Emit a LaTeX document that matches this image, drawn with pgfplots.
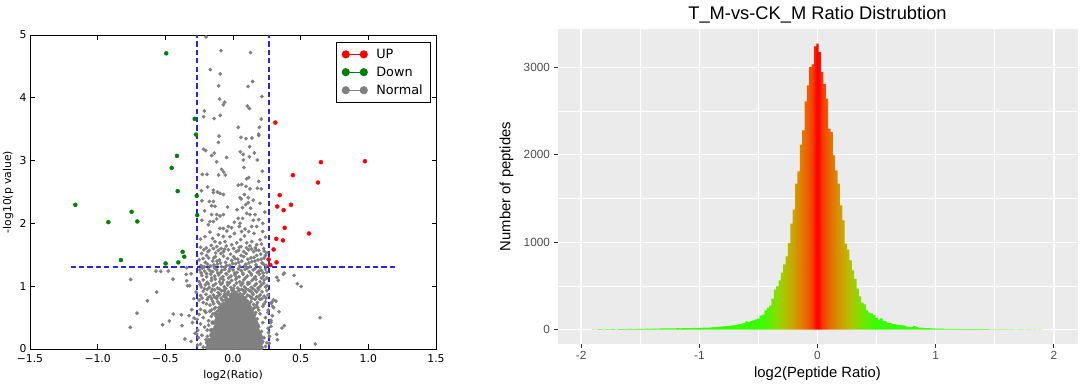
\documentclass[border=0pt]{standalone}
\usepackage{pgfplots}
\pgfplotsset{compat=1.18}
\usepackage{fontspec}
\setmainfont{DejaVu Sans}
\newfontfamily\dejavu{DejaVu Sans}
\newfontfamily\lib{Liberation Sans}
\definecolor{ggbg}{RGB}{235,235,235}
\definecolor{ggtick}{RGB}{51,51,51}
\definecolor{ggtext}{RGB}{77,77,77}
\definecolor{mgrey}{RGB}{128,128,128}
\definecolor{mgreen}{RGB}{0,128,0}
\definecolor{mred}{RGB}{255,0,0}
\definecolor{mblue}{RGB}{40,40,225}
\definecolor{h0}{RGB}{255,0,0}
\definecolor{h1}{RGB}{255,12,0}
\definecolor{h2}{RGB}{246,58,0}
\definecolor{h3}{RGB}{238,90,0}
\definecolor{h4}{RGB}{228,115,0}
\definecolor{h5}{RGB}{216,138,0}
\definecolor{h6}{RGB}{205,160,0}
\definecolor{h7}{RGB}{188,182,0}
\definecolor{h8}{RGB}{165,203,0}
\definecolor{h9}{RGB}{132,222,0}
\definecolor{h10}{RGB}{100,236,0}
\definecolor{h11}{RGB}{72,247,0}
\definecolor{h12}{RGB}{55,255,0}
\pgfdeclarehorizontalshading{histshade}{100bp}{color(0bp)=(h12); color(43.455bp)=(h12); color(44.110bp)=(h11); color(44.764bp)=(h10); color(45.419bp)=(h9); color(46.073bp)=(h8); color(46.728bp)=(h7); color(47.382bp)=(h6); color(47.906bp)=(h5); color(48.429bp)=(h4); color(48.953bp)=(h3); color(49.476bp)=(h2); color(49.804bp)=(h1); color(50bp)=(h0); color(50.196bp)=(h1); color(50.524bp)=(h2); color(51.047bp)=(h3); color(51.571bp)=(h4); color(52.094bp)=(h5); color(52.618bp)=(h6); color(53.272bp)=(h7); color(53.927bp)=(h8); color(54.581bp)=(h9); color(55.236bp)=(h10); color(55.890bp)=(h11); color(56.545bp)=(h12); color(100bp)=(h12)}
\begin{document}
\begin{tikzpicture}
\useasboundingbox (0,0) rectangle (1080pt,388pt);
% ---------------- left: volcano plot ----------------
\begin{axis}[
  at={(30pt,39pt)}, anchor=south west,
  scale only axis, width=406pt, height=314pt,
  xmin=-1.5, xmax=1.5, ymin=0, ymax=5,
  xtick={-1.5,-1,-0.5,0,0.5,1,1.5},
  xticklabels={−1.5,−1.0,−0.5,0.0,0.5,1.0,1.5},
  ytick={0,1,2,3,4,5},
  yticklabels={0,1,2,3,4,5},
  tick align=inside,
  major tick length=4.5pt,
  tick style={black, line width=0.8pt},
  axis line style={black, line width=0.9pt},
  tick label style={font=\dejavu\fontsize{10.8}{12}\selectfont, text=black},
  xticklabel style={anchor=center, yshift=-10pt},
  label style={font=\dejavu\fontsize{10.8}{12}\selectfont},
  xlabel={log2(Ratio)},
  ylabel={-log10(p value)},
  xlabel style={at={(axis description cs:0.5,-0.086)}, anchor=center},
  ylabel style={at={(axis description cs:-0.054,0.5)}, anchor=center},
  legend style={at={(1,1)}, anchor=north east, xshift=-5pt, yshift=-7pt,
    draw=black, line width=0.9pt, fill=white,
    font=\dejavu\fontsize{12.8}{14}\selectfont,
    inner xsep=5.4pt, inner ysep=4pt, row sep=2pt,
    nodes={inner sep=2.5pt}, cells={anchor=west},
    /tikz/every odd column/.append style={column sep=6pt}},
]
% grey (normal), scattered points
\addplot[only marks, mark=*, mark size=1.7pt, color=mgrey, mark options={fill=mgrey, draw=none}, forget plot] coordinates {
(-0.200,4.97) (-0.089,4.75) (0.130,4.72) (-0.168,4.45) (-0.094,4.38) (-0.106,4.19) (0.145,4.26) (0.111,4.18) (0.214,4.02) (-0.099,3.98)
(-0.062,3.93) (-0.071,3.89) (0.106,3.87) (0.121,3.83) (-0.212,3.79) (-0.217,3.70) (-0.140,3.67) (-0.094,3.72) (0.209,3.66) (0.039,3.53)
(0.195,3.53) (0.190,3.42) (-0.104,3.39) (-0.108,3.29) (0.059,3.37) (0.096,3.35) (0.140,3.36) (0.190,3.40) (0.123,3.22) (-0.217,3.18)
(-0.202,3.16) (-0.138,3.12) (-0.158,3.08) (0.054,3.14) (0.076,3.10) (0.158,3.12) (0.121,3.06) (-0.047,3.05) (-0.121,2.98) (0.076,3.01)
(0.180,3.01) (-0.084,2.86) (-0.069,2.82) (0.081,2.89) (0.116,2.73) (0.101,2.71) (-0.227,2.78) (-0.192,2.78) (-0.106,2.77) (-0.057,2.77)
(0.217,2.83) (0.190,2.67) (0.039,2.61) (0.064,2.62) (0.096,2.59) (0.126,2.55) (-0.234,2.52) (-0.145,2.53) (-0.145,2.49) (-0.116,2.50)
(-0.096,2.48) (-0.071,2.46) (-0.187,2.58) (0.180,2.56) (0.209,2.55) (0.052,2.41) (0.113,2.41) (0.084,2.46)
(-0.175,2.35) (-0.145,2.35) (-0.158,2.28) (-0.133,2.27) (0.094,2.30) (0.113,2.33) (0.150,2.37) (0.060,2.39) (-0.230,2.36) (0.200,2.32)
(-0.158,2.14) (-0.121,2.14) (-0.096,2.12) (-0.071,2.14) (0.101,2.16) (0.126,2.14) (0.163,2.14) (0.190,2.06) (0.030,2.22) (-0.210,2.20)
(0.070,2.25) (0.235,2.18) (-0.040,2.26) (0.130,2.24)
(-0.170,2.03) (-0.145,2.03) (-0.182,1.98) (0.039,2.08) (0.071,2.08) (0.052,2.00) (0.175,1.95) (-0.096,1.92) (-0.071,1.92) (-0.034,1.95)
(0.047,1.95) (0.089,1.91) (0.138,1.95) (-0.230,2.05) (0.010,2.02) (0.220,2.00) (-0.120,2.07) (0.150,2.05) (-0.010,1.93)
(-0.207,1.79) (-0.108,1.82) (-0.071,1.79) (-0.022,1.79) (0.064,1.87) (0.116,1.87) (0.155,1.84) (0.219,1.87) (0.200,1.74) (-0.133,1.71)
(-0.096,1.69) (-0.059,1.71) (0.027,1.69) (0.057,1.74) (0.101,1.69) (0.138,1.71) (0.175,1.66) (-0.170,1.86) (-0.240,1.75) (0.010,1.84)
(0.085,1.80) (-0.045,1.88) (0.240,1.78) (-0.150,1.76)
(-0.215,1.58) (-0.185,1.55) (-0.145,1.60) (-0.108,1.57) (-0.071,1.55) (-0.034,1.58) (0.004,1.60) (0.041,1.57) (0.079,1.55) (0.116,1.58)
(0.153,1.55) (0.190,1.57) (0.227,1.60) (-0.160,1.65) (-0.120,1.63) (-0.010,1.66) (0.060,1.63) (0.125,1.64) (0.210,1.67) (-0.240,1.62)
(0.250,1.53) (-0.090,1.52) (-0.050,1.64) (0.100,1.61) (0.165,1.61)
(-0.232,1.52) (-0.176,1.57) (-0.128,1.53) (-0.062,1.59) (-0.018,1.51) (0.024,1.55) (0.098,1.52) (0.137,1.59) (0.205,1.51) (0.231,1.56)
(-0.197,1.61) (0.047,1.62) (-0.088,1.60) (0.172,1.58)
(-0.235,1.33) (-0.205,1.38) (-0.180,1.45) (-0.165,1.32) (-0.150,1.40) (-0.130,1.47) (-0.115,1.35) (-0.100,1.42) (-0.085,1.31) (-0.070,1.48)
(-0.055,1.38) (-0.040,1.44) (-0.025,1.33) (-0.010,1.41) (0.005,1.47) (0.020,1.36) (0.035,1.43) (0.050,1.32) (0.065,1.40) (0.080,1.47)
(0.095,1.35) (0.110,1.43) (0.125,1.31) (0.140,1.39) (0.155,1.46) (0.170,1.34) (0.185,1.42) (0.200,1.30) (0.215,1.37) (0.230,1.45)
(0.245,1.33) (-0.250,1.42) (-0.195,1.49) (-0.140,1.34) (0.060,1.49) (0.175,1.49) (0.240,1.49) (-0.060,1.30) (0.100,1.30)
(-0.221,1.44) (-0.188,1.35) (-0.142,1.45) (-0.092,1.37) (-0.047,1.33) (-0.003,1.36) (0.042,1.38) (0.087,1.33) (0.133,1.45) (0.162,1.40)
(0.208,1.43) (0.226,1.35) (-0.118,1.40) (0.015,1.44) (0.118,1.37) (-0.212,1.31)
(-0.245,1.26) (-0.21,1.24) (-0.18,1.27) (-0.15,1.23) (-0.12,1.26) (-0.09,1.22) (-0.06,1.27) (-0.03,1.24) (0.00,1.26) (0.03,1.22)
(0.06,1.25) (0.09,1.27) (0.12,1.23) (0.15,1.26) (0.18,1.22) (0.21,1.25) (0.24,1.27)
(-0.236,1.21) (-0.224,1.29) (-0.196,1.20) (-0.167,1.24) (-0.138,1.29) (-0.112,1.21) (-0.083,1.25) (-0.052,1.20) (-0.024,1.28) (0.012,1.21)
(0.041,1.28) (0.072,1.21) (0.103,1.28) (0.134,1.20) (0.163,1.28) (0.192,1.24) (0.222,1.21) (0.249,1.22) (-0.157,1.13) (-0.092,1.12)
(-0.032,1.13) (0.027,1.14) (0.091,1.13) (0.152,1.12) (0.209,1.13)
(-0.23,1.17) (-0.195,1.15) (-0.165,1.19) (-0.135,1.16) (-0.105,1.18) (-0.075,1.15) (-0.045,1.19) (-0.015,1.16) (0.015,1.18) (0.045,1.15)
(0.075,1.19) (0.105,1.16) (0.135,1.18) (0.165,1.15) (0.195,1.19) (0.225,1.16) (0.25,1.13)
(-0.25,1.07) (-0.22,1.10) (-0.19,1.06) (-0.16,1.09) (-0.13,1.11) (-0.10,1.07) (-0.07,1.10) (-0.04,1.06) (-0.01,1.09) (0.02,1.11)
(0.05,1.07) (0.08,1.10) (0.11,1.06) (0.14,1.09) (0.17,1.11) (0.20,1.07) (0.23,1.10)
(-0.242,1.03) (-0.211,0.96) (-0.182,1.04) (-0.153,0.95) (-0.128,1.04) (-0.102,0.96) (-0.078,1.05) (-0.053,0.96) (-0.027,1.05) (0.004,0.96)
(0.027,1.05) (0.048,0.94) (0.072,1.05) (0.097,0.96) (0.122,1.05) (0.147,0.96) (0.173,1.04) (0.198,0.99) (0.227,1.05) (0.252,1.01)
(-0.063,0.92) (0.007,0.92) (0.078,0.93) (0.128,0.92) (0.176,0.91)
(-0.235,0.99) (-0.205,1.02) (-0.175,0.98) (-0.145,1.01) (-0.115,0.97) (-0.09,1.03) (-0.065,0.99) (-0.04,1.02) (-0.015,0.98) (0.01,1.01)
(0.035,0.97) (0.06,1.02) (0.085,0.99) (0.11,1.03) (0.135,0.98) (0.16,1.01) (0.185,0.97) (0.21,1.02) (0.24,0.99)
(-0.22,0.92) (-0.19,0.95) (-0.16,0.91) (-0.135,0.94) (-0.11,0.90) (-0.085,0.93) (-0.06,0.95) (-0.035,0.91) (-0.01,0.94) (0.015,0.90)
(0.04,0.93) (0.065,0.95) (0.09,0.91) (0.115,0.94) (0.14,0.90) (0.165,0.93) (0.19,0.95) (0.215,0.91) (0.25,0.93)
(-0.24,0.85) (-0.20,0.87) (-0.17,0.84) (-0.145,0.86) (-0.12,0.83) (-0.095,0.87) (-0.07,0.84) (-0.045,0.86) (0.125,0.84) (0.15,0.87)
(0.175,0.83) (0.20,0.86) (0.23,0.84) (0.26,0.86)
(-0.228,0.81) (-0.183,0.82) (-0.158,0.80) (-0.136,0.83) (-0.108,0.85) (-0.088,0.81) (-0.062,0.88) (-0.052,0.82) (-0.037,0.89) (-0.022,0.85)
(-0.008,0.88) (0.008,0.86) (0.024,0.89) (0.037,0.85) (0.052,0.88) (0.066,0.84) (0.078,0.88) (0.094,0.82) (0.108,0.86) (0.137,0.82)
(0.163,0.79) (0.186,0.83) (0.213,0.80) (0.244,0.81) (-0.058,0.78) (-0.048,0.74) (0.082,0.78) (0.092,0.73) (0.108,0.76) (-0.088,0.71)
(-0.068,0.73) (0.118,0.72) (0.132,0.75) (-0.113,0.75) (-0.143,0.72) (0.152,0.71) (0.175,0.70) (-0.196,0.72) (0.227,0.71)
(-0.25,0.78) (-0.22,0.74) (-0.19,0.79) (-0.17,0.70) (-0.15,0.76) (-0.13,0.66) (-0.12,0.80) (-0.10,0.72) (-0.08,0.78) (-0.07,0.65)
(0.10,0.77) (0.12,0.70) (0.14,0.80) (0.16,0.66) (0.18,0.74) (0.20,0.79) (0.22,0.68) (0.24,0.75) (0.26,0.62) (-0.24,0.63)
(-0.21,0.61) (-0.16,0.62) (0.19,0.62) (0.14,0.62)
(-0.103,0.66) (-0.092,0.63) (-0.117,0.60) (-0.132,0.57) (-0.107,0.55) (-0.126,0.52) (-0.148,0.56) (-0.172,0.60) (-0.138,0.64) (0.112,0.64)
(0.123,0.60) (0.128,0.67) (0.136,0.55) (0.142,0.59) (0.157,0.53) (0.148,0.64) (0.167,0.58) (0.182,0.66) (0.103,0.68) (-0.082,0.68)
(-0.25,0.55) (-0.22,0.50) (-0.20,0.58) (-0.18,0.45) (-0.16,0.52) (-0.24,0.40) (-0.21,0.35) (-0.19,0.30) (-0.23,0.22) (-0.20,0.15)
(-0.24,0.08) (-0.22,0.03) (-0.19,0.20) (-0.18,0.38) (-0.26,0.30) (0.16,0.55) (0.18,0.48) (0.20,0.56) (0.22,0.42) (0.24,0.50)
(0.19,0.35) (0.21,0.28) (0.23,0.18) (0.25,0.10) (0.20,0.05) (0.22,0.12) (0.26,0.33) (0.18,0.22) (0.24,0.04) (0.27,0.20)
(-0.262,0.06) (-0.255,0.18) (0.268,0.09) (0.262,0.26) (-0.266,0.47) (0.258,0.58)
(-0.569,1.240) (-0.534,1.235) (-0.478,1.240) (-0.756,1.107) (-0.443,1.113) (-0.345,1.187) (-0.342,1.086) (-0.335,1.007) (-0.320,1.007) (-0.564,0.906)
(-0.633,0.768) (-0.709,0.572) (-0.441,0.556) (-0.382,0.545) (-0.325,0.530) (-0.759,0.344) (-0.520,0.387) (-0.470,0.445) (-0.377,0.371) (-0.355,0.159)
(-0.342,1.294) (-0.310,1.198) (-0.273,0.907) (-0.305,0.626) (-0.290,0.80) (-0.300,0.42) (-0.280,0.25) (-0.310,0.12) (-0.288,0.493) (-0.268,0.239)
(0.379,1.208) (0.372,1.192) (0.451,1.171) (0.323,1.140) (0.335,1.092) (0.475,1.039) (0.503,0.996) (0.318,0.763) (0.286,0.742) (0.293,0.678)
(0.301,0.657) (0.340,0.593) (0.291,0.530) (0.281,0.456) (0.281,0.424) (0.643,0.498) (0.281,0.360) (0.379,0.371) (0.362,0.334) (0.323,0.233)
(0.328,0.148) (0.608,0.079) (0.298,0.78) (0.283,0.73)
};
% grey (normal), dense core where points overlap into a solid mass
\addplot[only marks, mark=*, mark size=2.1pt, color=mgrey, mark options={fill=mgrey, draw=none}, forget plot] coordinates {
(-0.19,0.02) (-0.17,0.02) (-0.15,0.02) (-0.13,0.02) (-0.11,0.02) (-0.09,0.02) (-0.07,0.02) (-0.05,0.02) (-0.03,0.02) (-0.01,0.02) (0.01,0.02) (0.03,0.02) (0.05,0.02) (0.07,0.02) (0.09,0.02) (0.11,0.02) (0.13,0.02) (0.15,0.02) (0.17,0.02) (0.19,0.02) (0.21,0.02)
(-0.18,0.06) (-0.16,0.06) (-0.14,0.06) (-0.12,0.06) (-0.10,0.06) (-0.08,0.06) (-0.06,0.06) (-0.04,0.06) (-0.02,0.06) (0.00,0.06) (0.02,0.06) (0.04,0.06) (0.06,0.06) (0.08,0.06) (0.10,0.06) (0.12,0.06) (0.14,0.06) (0.16,0.06) (0.18,0.06) (0.20,0.06)
(-0.19,0.10) (-0.17,0.10) (-0.15,0.10) (-0.13,0.10) (-0.11,0.10) (-0.09,0.10) (-0.07,0.10) (-0.05,0.10) (-0.03,0.10) (-0.01,0.10) (0.01,0.10) (0.03,0.10) (0.05,0.10) (0.07,0.10) (0.09,0.10) (0.11,0.10) (0.13,0.10) (0.15,0.10) (0.17,0.10) (0.19,0.10) (0.21,0.10)
(-0.18,0.14) (-0.16,0.14) (-0.14,0.14) (-0.12,0.14) (-0.10,0.14) (-0.08,0.14) (-0.06,0.14) (-0.04,0.14) (-0.02,0.14) (0.00,0.14) (0.02,0.14) (0.04,0.14) (0.06,0.14) (0.08,0.14) (0.10,0.14) (0.12,0.14) (0.14,0.14) (0.16,0.14) (0.18,0.14) (0.20,0.14)
(-0.15,0.18) (-0.13,0.18) (-0.11,0.18) (-0.09,0.18) (-0.07,0.18) (-0.05,0.18) (-0.03,0.18) (-0.01,0.18) (0.01,0.18) (0.03,0.18) (0.05,0.18) (0.07,0.18) (0.09,0.18) (0.11,0.18) (0.13,0.18) (0.15,0.18) (0.17,0.18) (0.19,0.18) (0.21,0.18)
(-0.16,0.22) (-0.14,0.22) (-0.12,0.22) (-0.10,0.22) (-0.08,0.22) (-0.06,0.22) (-0.04,0.22) (-0.02,0.22) (0.00,0.22) (0.02,0.22) (0.04,0.22) (0.06,0.22) (0.08,0.22) (0.10,0.22) (0.12,0.22) (0.14,0.22) (0.16,0.22) (0.18,0.22) (0.20,0.22)
(-0.15,0.26) (-0.13,0.26) (-0.11,0.26) (-0.09,0.26) (-0.07,0.26) (-0.05,0.26) (-0.03,0.26) (-0.01,0.26) (0.01,0.26) (0.03,0.26) (0.05,0.26) (0.07,0.26) (0.09,0.26) (0.11,0.26) (0.13,0.26) (0.15,0.26) (0.17,0.26) (0.19,0.26)
(-0.16,0.30) (-0.14,0.30) (-0.12,0.30) (-0.10,0.30) (-0.08,0.30) (-0.06,0.30) (-0.04,0.30) (-0.02,0.30) (0.00,0.30) (0.02,0.30) (0.04,0.30) (0.06,0.30) (0.08,0.30) (0.10,0.30) (0.12,0.30) (0.14,0.30) (0.16,0.30) (0.18,0.30)
(-0.13,0.34) (-0.11,0.34) (-0.09,0.34) (-0.07,0.34) (-0.05,0.34) (-0.03,0.34) (-0.01,0.34) (0.01,0.34) (0.03,0.34) (0.05,0.34) (0.07,0.34) (0.09,0.34) (0.11,0.34) (0.13,0.34) (0.15,0.34) (0.17,0.34)
(-0.12,0.38) (-0.10,0.38) (-0.08,0.38) (-0.06,0.38) (-0.04,0.38) (-0.02,0.38) (0.00,0.38) (0.02,0.38) (0.04,0.38) (0.06,0.38) (0.08,0.38) (0.10,0.38) (0.12,0.38) (0.14,0.38) (0.16,0.38) (0.18,0.38)
(-0.15,0.42) (-0.13,0.42) (-0.11,0.42) (-0.09,0.42) (-0.07,0.42) (-0.05,0.42) (-0.03,0.42) (-0.01,0.42) (0.01,0.42) (0.03,0.42) (0.05,0.42) (0.07,0.42) (0.09,0.42) (0.11,0.42) (0.13,0.42) (0.15,0.42) (0.17,0.42)
(-0.12,0.46) (-0.10,0.46) (-0.08,0.46) (-0.06,0.46) (-0.04,0.46) (-0.02,0.46) (0.00,0.46) (0.02,0.46) (0.04,0.46) (0.06,0.46) (0.08,0.46) (0.10,0.46) (0.12,0.46) (0.14,0.46) (0.16,0.46)
(-0.11,0.50) (-0.09,0.50) (-0.07,0.50) (-0.05,0.50) (-0.03,0.50) (-0.01,0.50) (0.01,0.50) (0.03,0.50) (0.05,0.50) (0.07,0.50) (0.09,0.50) (0.11,0.50) (0.13,0.50) (0.15,0.50)
(-0.12,0.54) (-0.10,0.54) (-0.08,0.54) (-0.06,0.54) (-0.04,0.54) (-0.02,0.54) (0.00,0.54) (0.02,0.54) (0.04,0.54) (0.06,0.54) (0.08,0.54) (0.10,0.54) (0.12,0.54) (0.14,0.54)
(-0.09,0.58) (-0.07,0.58) (-0.05,0.58) (-0.03,0.58) (-0.01,0.58) (0.01,0.58) (0.03,0.58) (0.05,0.58) (0.07,0.58) (0.09,0.58) (0.11,0.58) (0.13,0.58)
(-0.10,0.62) (-0.08,0.62) (-0.06,0.62) (-0.04,0.62) (-0.02,0.62) (0.00,0.62) (0.02,0.62) (0.04,0.62) (0.06,0.62) (0.08,0.62) (0.10,0.62) (0.12,0.62)
(-0.07,0.66) (-0.05,0.66) (-0.03,0.66) (-0.01,0.66) (0.01,0.66) (0.03,0.66) (0.05,0.66) (0.07,0.66) (0.09,0.66) (0.11,0.66)
(-0.06,0.70) (-0.04,0.70) (-0.02,0.70) (0.00,0.70) (0.02,0.70) (0.04,0.70) (0.06,0.70) (0.08,0.70) (0.10,0.70)
(-0.03,0.74) (-0.01,0.74) (0.01,0.74) (0.03,0.74) (0.05,0.74) (0.07,0.74) (0.09,0.74)
(-0.04,0.78) (-0.02,0.78) (0.00,0.78) (0.02,0.78) (0.04,0.78) (0.06,0.78) (0.08,0.78)
(-0.01,0.82) (0.01,0.82) (0.03,0.82) (0.05,0.82) (0.07,0.82)
(-0.01,0.86) (0.01,0.86) (0.03,0.86)
};
% red (up)
\addplot[only marks, mark=*, mark size=2pt, color=mred, mark options={fill=mred, draw=none}, forget plot] coordinates {
(0.313,3.606) (0.975,2.990) (0.650,2.975) (0.443,2.768) (0.628,2.651) (0.345,2.450) (0.429,2.296) (0.327,2.269) (0.374,2.211)
(0.382,1.930) (0.562,1.840) (0.320,1.755) (0.369,1.729) (0.300,1.585) (0.263,1.426) (0.322,1.379) (0.276,1.336)
};
% green (down)
\addplot[only marks, mark=*, mark size=2pt, color=mgreen, mark options={fill=mgreen, draw=none}, forget plot] coordinates {
(-0.493,4.708) (-0.283,3.664) (-0.273,3.414) (-0.414,3.075) (-0.453,2.884) (-0.409,2.513) (-0.268,2.439) (-1.165,2.296) (-0.749,2.185)
(-0.921,2.020) (-0.707,2.031) (-0.264,2.131) (-0.828,1.416) (-0.372,1.548) (-0.360,1.469) (-0.498,1.363) (-0.404,1.379)
};
% thresholds
\addplot[draw=mblue, line width=2pt, dash pattern=on 5.2pt off 3.2pt, forget plot] table {
x y
-0.263 0
-0.263 5
};
\addplot[draw=mblue, line width=2pt, dash pattern=on 5.2pt off 3.2pt, forget plot] table {
x y
0.263 0
0.263 5
};
\addplot[draw=mblue, line width=2pt, dash pattern=on 5.2pt off 3.2pt, forget plot] table {
x y
-1.2 1.301
1.2 1.301
};
% legend
\addlegendimage{legend image code/.code={\draw[mred, line width=1.1pt] (0pt,0pt) -- (18pt,0pt); \fill[mred] (0pt,0pt) circle (3.6pt); \fill[mred] (18pt,0pt) circle (3.6pt);}}
\addlegendentry{UP}
\addlegendimage{legend image code/.code={\draw[mgreen, line width=1.1pt] (0pt,0pt) -- (18pt,0pt); \fill[mgreen] (0pt,0pt) circle (3.6pt); \fill[mgreen] (18pt,0pt) circle (3.6pt);}}
\addlegendentry{Down}
\addlegendimage{legend image code/.code={\draw[mgrey, line width=1.1pt] (0pt,0pt) -- (18pt,0pt); \fill[mgrey] (0pt,0pt) circle (3.6pt); \fill[mgrey] (18pt,0pt) circle (3.6pt);}}
\addlegendentry{Normal}
\end{axis}
% ---------------- right: histogram ----------------
\begin{axis}[
  at={(557.5pt,44pt)}, anchor=south west,
  scale only axis, width=520pt, height=315pt,
  xmin=-2.2, xmax=2.2, ymin=-164, ymax=3437,
  axis background/.style={fill=ggbg},
  axis line style={draw=none},
  xtick={-2,-1,0,1,2}, xticklabels={-2,-1,0,1,2},
  ytick={0,1000,2000,3000}, yticklabels={0,1000,2000,3000},
  minor xtick={-1.5,-0.5,0.5,1.5}, minor ytick={500,1500,2500},
  grid=both,
  major grid style={white, line width=1.3pt},
  minor grid style={white, line width=0.65pt},
  tick pos=left, tick align=outside, major tick length=4pt, minor tick length=0pt,
  tick style={ggtick, line width=0.9pt},
  tick label style={font=\lib\fontsize{11.8}{13}\selectfont, text=ggtext},
  title={T\_M-vs-CK\_M Ratio Distrubtion},
  title style={font=\lib\fontsize{18.3}{20}\selectfont, at={(axis description cs:0.5,1)}, anchor=base, yshift=3pt},
  xlabel={log2(Peptide Ratio)}, ylabel={Number of peptides},
  label style={font=\lib\fontsize{14.8}{17}\selectfont},
  xlabel style={at={(axis description cs:0.5,0)}, anchor=base, yshift=-34pt},
  ylabel style={at={(axis description cs:-0.098,0.5)}, anchor=center},
]
\addplot[const plot mark left, draw=none, shade, shading=histshade] coordinates {
(-1.91,3) (-1.89,0) (-1.87,4) (-1.85,5) (-1.83,3) (-1.81,0) (-1.79,5) (-1.77,4) (-1.75,6) (-1.73,5)
(-1.71,0) (-1.69,6) (-1.67,7) (-1.65,5) (-1.63,7) (-1.61,6) (-1.59,8) (-1.57,7) (-1.55,8) (-1.53,9)
(-1.51,10) (-1.49,9) (-1.47,10) (-1.45,11) (-1.43,10) (-1.41,12) (-1.39,12) (-1.37,13) (-1.35,13) (-1.33,14)
(-1.31,14) (-1.29,15) (-1.27,14) (-1.25,16) (-1.23,15) (-1.21,16) (-1.19,17) (-1.17,16) (-1.15,17) (-1.13,18)
(-1.11,17) (-1.09,18) (-1.07,18) (-1.05,19) (-1.03,18) (-1.01,20) (-0.99,21) (-0.97,22) (-0.95,22) (-0.93,24)
(-0.91,26) (-0.89,28) (-0.87,30) (-0.85,32) (-0.83,35) (-0.81,37) (-0.79,40) (-0.77,42) (-0.75,45) (-0.73,48)
(-0.71,52) (-0.69,58) (-0.67,64) (-0.65,70) (-0.63,75) (-0.61,95) (-0.59,88) (-0.57,98) (-0.55,105) (-0.53,118)
(-0.51,125) (-0.49,160) (-0.47,172) (-0.45,221) (-0.43,248) (-0.41,274) (-0.39,354) (-0.37,457) (-0.35,495) (-0.33,564)
(-0.31,651) (-0.29,747) (-0.27,838) (-0.25,990) (-0.23,1211) (-0.21,1371) (-0.19,1669) (-0.17,1810) (-0.15,2114) (-0.13,2278)
(-0.11,2610) (-0.09,2792) (-0.07,3002) (-0.05,3032) (-0.03,3238)
(-0.01,3270)
(0.01,3174) (0.03,2945) (0.05,2811) (0.07,2640) (0.09,2297) (0.11,2259) (0.13,1992) (0.15,1821) (0.17,1669) (0.19,1421)
(0.21,1250) (0.23,983) (0.25,914) (0.27,792) (0.29,678) (0.31,580) (0.33,470) (0.35,380) (0.37,310) (0.39,290)
(0.41,220) (0.43,195) (0.45,185) (0.47,165) (0.49,135) (0.51,115) (0.53,128) (0.55,100) (0.57,95) (0.59,78)
(0.61,74) (0.63,62) (0.65,60) (0.67,56) (0.69,52) (0.71,50) (0.73,45) (0.75,36) (0.77,32) (0.79,28)
(0.81,40) (0.83,34) (0.85,24) (0.87,22) (0.89,20) (0.91,18) (0.93,17) (0.95,16) (0.97,14) (0.99,13)
(1.01,12) (1.03,12) (1.05,11) (1.07,10) (1.09,10) (1.11,9) (1.13,9) (1.15,8) (1.17,8) (1.19,8)
(1.21,7) (1.23,7) (1.25,7) (1.27,6) (1.29,6) (1.31,6) (1.33,6) (1.35,5) (1.37,5) (1.39,5)
(1.41,5) (1.43,5) (1.45,4) (1.47,4) (1.49,4) (1.51,4) (1.53,4) (1.55,3) (1.57,3) (1.59,3)
(1.61,2) (1.63,3) (1.65,2) (1.67,0) (1.69,2) (1.71,2) (1.73,3) (1.75,0) (1.77,2) (1.79,2)
(1.81,0) (1.83,2) (1.85,0) (1.87,3) (1.89,0) (1.91,0)
} \closedcycle;
\end{axis}
\end{tikzpicture}
\end{document}
